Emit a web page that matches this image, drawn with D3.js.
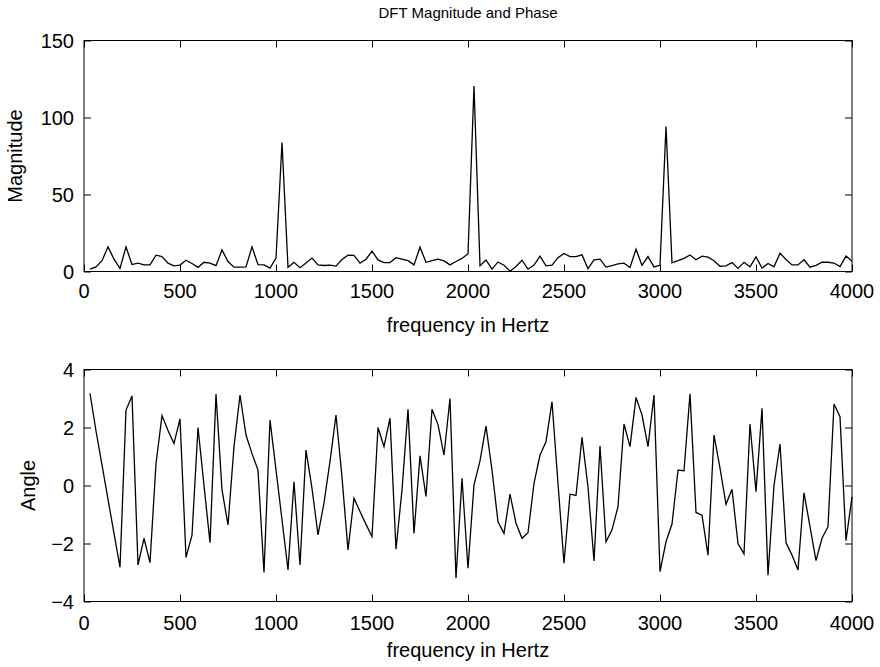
<!DOCTYPE html>
<html><head><meta charset="utf-8">
<script src="https://cdn.jsdelivr.net/npm/d3@7/dist/d3.min.js"></script>
<style>
html,body{margin:0;padding:0;background:#fff;}
text{font-family:"Liberation Sans",Arial,Helvetica,sans-serif;fill:#000;}
</style></head>
<body><svg id="chart" width="880" height="667"></svg>
<script>
// DFT bin spacing (fs = 8000 Hz, N = 256) — points plotted at bins 1..128
const binHz = 31.25;
const magnitude = [
1.5,3,7,16,8,2,16,4.5,5.4,4.3,
4.3,10.6,9.7,5.4,3.7,4.2,7.3,5.2,2.7,6,
5.4,3.8,14,6.5,2.8,2.8,3,16,4.5,4.3,
2.2,8.7,83.8,2.7,6,2.5,5.5,8.7,4.3,3.9,
4.1,3.5,7.8,10.6,10.5,5.5,8,13.2,7.5,5.8,
5.8,9,8,7,4.3,15.8,6,7,8,6.9,
4.3,6.5,8.5,11.5,120.5,3.7,7.5,1.5,6.2,4.1,
0.2,3.3,7.3,1.5,4.2,10,3.7,4.1,9,11.7,
9.7,9.7,10.8,1.8,7.5,8,2.9,3.8,5,5.4,
2.6,14.5,4,9.7,3,4,94.2,5.6,7,8.5,
10.7,7.6,10,9.3,7,3.4,3.7,5.8,2,6,
3,9.5,2.2,5.2,3,11.9,7.8,4.3,4.3,7.6,
2.8,4,6,6,5.5,3.2,10,6.7];
const angle = [
3.18,1.88,0.71,-0.48,-1.65,-2.82,2.6,3.09,-2.74,-1.82,
-2.66,0.76,2.41,1.9,1.45,2.3,-2.48,-1.71,2.0,0,
-1.97,3.15,-0.15,-1.36,1.34,3.12,1.74,1.1,0.53,-3.0,
2.26,0.54,-1.18,-2.91,0.13,-2.74,1.22,-0.1,-1.7,-0.6,
0.83,2.43,0.28,-2.22,-0.44,-0.9,-1.34,-1.76,2.0,1.34,
2.32,-2.2,-0.15,2.63,-1.65,1.02,-0.38,2.63,2.1,1.05,
3.0,-3.2,0.25,-2.85,0.02,0.85,2.05,0.53,-1.25,-1.65,
-0.3,-1.3,-1.82,-1.63,0.07,1.05,1.51,2.89,0.07,-2.68,
-0.3,-0.34,1.66,-0.05,-2.6,1.36,-1.94,-1.53,-0.73,2.12,
1.34,3.04,2.43,1.34,3.12,-2.97,-1.94,-1.33,0.53,0.51,
3.16,-0.93,-1.02,-2.4,1.74,0.6,-0.65,-0.13,-2.0,-2.36,
2.12,-0.21,2.66,-3.09,0,1.43,-1.97,-2.4,-2.91,-0.25,
-1.42,-2.59,-1.82,-1.42,2.81,2.37,-1.9,-0.39];
const xTicks = [0,500,1000,1500,2000,2500,3000,3500,4000];
const magTicks = [0,50,100,150];
const angTicks = [-4,-2,0,2,4];
const title = "DFT Magnitude and Phase";
const xLabel = "frequency in Hertz";

const svg = d3.select("#chart");
const L = 84, R = 852;
const FS = "20px";
const x = d3.scaleLinear().domain([0,4000]).range([L,R]);
const fmt = v => v < 0 ? "\u2212" + Math.abs(v) : String(v);

function panel(top, bottom, yDomain, yTicks, values, yLab, yLabX, tickLabBase, xLabBase) {
  const y = d3.scaleLinear().domain(yDomain).range([bottom, top]);
  const g = svg.append("g");
  const tl = 7;
  g.append("rect").attr("x", L).attr("y", top).attr("width", R-L).attr("height", bottom-top)
    .attr("fill","none").attr("stroke","#000").attr("stroke-width",1);
  const axB = d3.axisBottom(x).tickValues(xTicks).tickSizeInner(-tl).tickSizeOuter(0).tickFormat("");
  const axT = d3.axisTop(x).tickValues(xTicks).tickSizeInner(-tl).tickSizeOuter(0).tickFormat("");
  const axL = d3.axisLeft(y).tickValues(yTicks).tickSizeInner(-tl).tickSizeOuter(0).tickFormat("");
  const axR = d3.axisRight(y).tickValues(yTicks).tickSizeInner(-tl).tickSizeOuter(0).tickFormat("");
  [[axB,`translate(0,${bottom})`],[axT,`translate(0,${top})`],[axL,`translate(${L},0)`],[axR,`translate(${R},0)`]]
   .forEach(([a,t]) => {
     const s = g.append("g").attr("transform", t).call(a);
     s.select(".domain").remove();
     s.selectAll("line").attr("stroke","#000").attr("stroke-width",1);
   });
  g.selectAll(".xt").data(xTicks).enter().append("text")
    .attr("x", d => x(d)).attr("y", tickLabBase).attr("text-anchor","middle")
    .style("font-size",FS).text(d => d);
  g.selectAll(".yt").data(yTicks).enter().append("text")
    .attr("x", L - 10).attr("y", d => y(d)).attr("dy","0.36em").attr("text-anchor","end")
    .style("font-size",FS).text(fmt);
  const line = d3.line().x((d,i) => x((i+1)*binHz)).y(d => y(d));
  g.append("path").datum(values).attr("d", line).attr("fill","none")
    .attr("stroke","#000").attr("stroke-width",1.3).attr("stroke-linejoin","miter");
  g.append("text").attr("x", (L+R)/2).attr("y", xLabBase).attr("text-anchor","middle")
    .style("font-size",FS).text(xLabel);
  g.append("text").attr("transform", `translate(${yLabX},${(top+bottom)/2}) rotate(-90)`)
    .attr("text-anchor","middle").style("font-size",FS).text(yLab);
}

svg.append("text").attr("x", (L+R)/2).attr("y", 18).attr("text-anchor","middle")
  .style("font-size","15px").text(title);
panel(40.5, 271.5, [0,150], magTicks, magnitude, "Magnitude", 22, 298, 332);
panel(369.5, 601.5, [-4,4], angTicks, angle, "Angle", 35, 630, 657);
</script></body></html>
